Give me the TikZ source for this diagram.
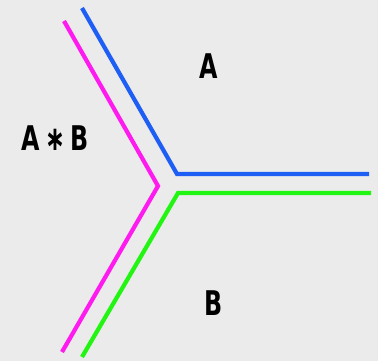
\documentclass[tikz,border=0pt]{standalone}
\usepackage{fontspec}
\newfontfamily\lblfont[FakeStretch=0.7]{DejaVu Sans Bold}
\definecolor{bgc}{HTML}{EBEBEB}
\definecolor{lblue}{HTML}{1F5EF5}
\definecolor{lmag}{HTML}{FF1AF0}
\definecolor{lgreen}{HTML}{22F511}
\tikzset{
  edge/.style={line width=4.2pt, line join=miter},
  lbl/.style={font=\lblfont\fontsize{34}{34}\selectfont, inner sep=0pt}
}
\begin{document}
\begin{tikzpicture}[x=1pt,y=-1pt]
\fill[bgc] (0,0) rectangle (378,361);
\useasboundingbox (0,0) rectangle (378,361);
% coordinates
\coordinate (b1) at (82,8);
\coordinate (b2) at (177,174);
\coordinate (b3) at (369,174);
\coordinate (m1) at (64,21);
\coordinate (m2) at (158,186);
\coordinate (m3) at (62,352);
\coordinate (g1) at (371,193);
\coordinate (g2) at (178,193);
\coordinate (g3) at (82,357);
\draw[edge, lblue] (b1) -- (b2) -- (b3);
\draw[edge, lmag] (m1) -- (m2) -- (m3);
\draw[edge, lgreen] (g1) -- (g2) -- (g3);
\node[lbl] (A) at (209,66) {A};
\node[lbl] (AB) at (55,138) {A\,∗\,B};
\node[lbl] (B) at (214,303) {B};
\end{tikzpicture}
\end{document}
